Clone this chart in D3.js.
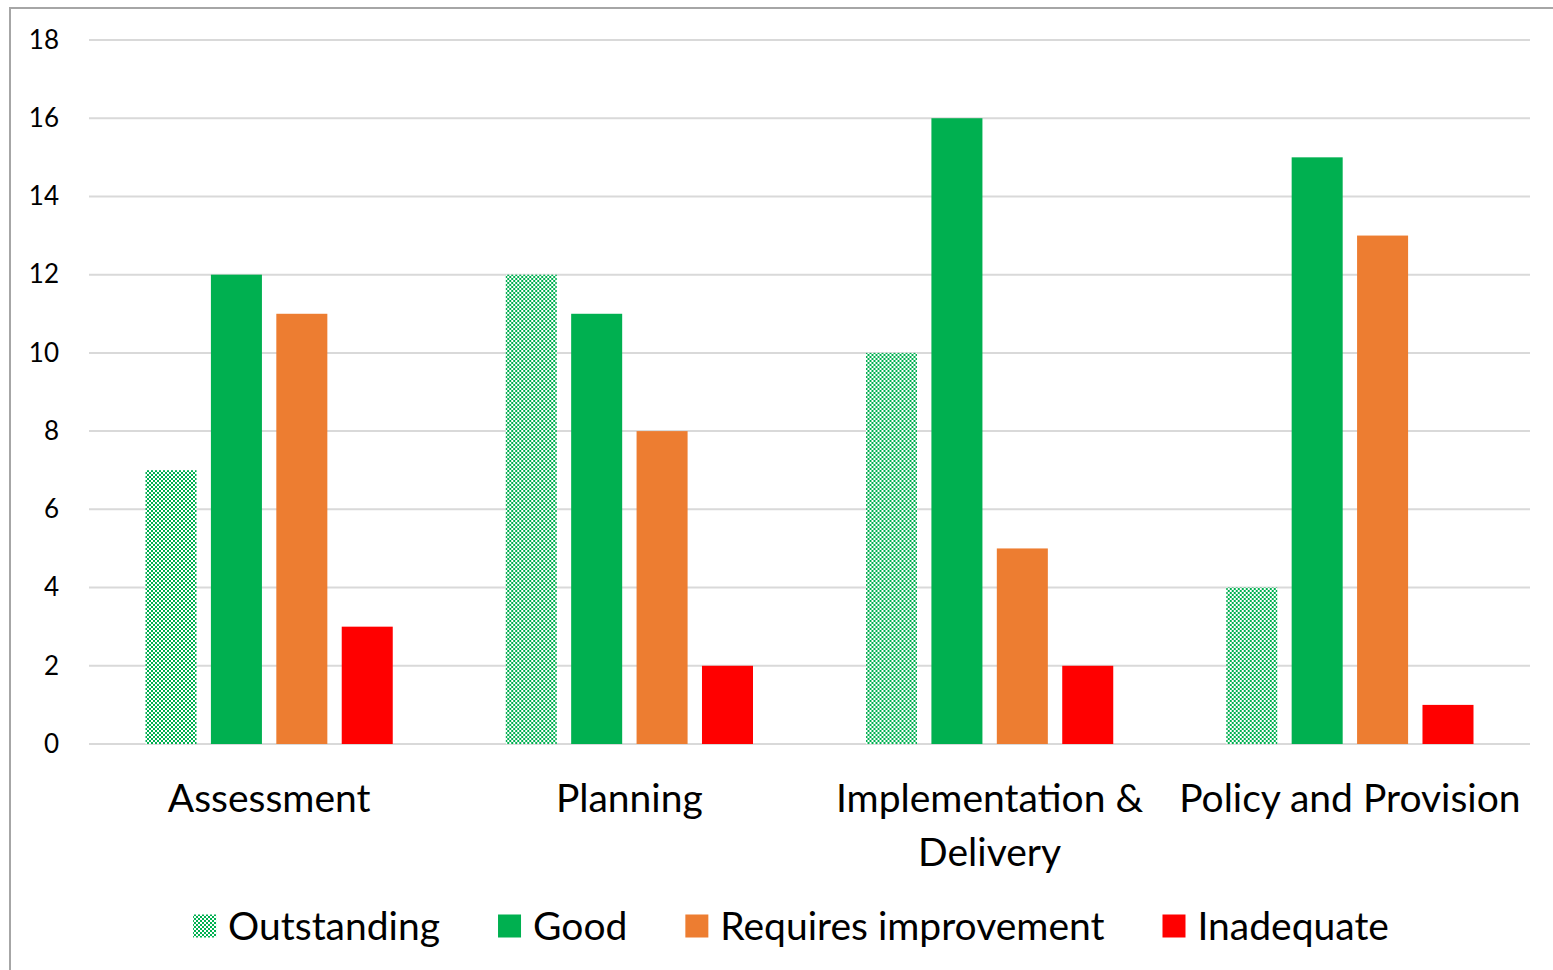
<!DOCTYPE html>
<html>
<head>
<meta charset="utf-8">
<script src="https://cdn.jsdelivr.net/npm/d3@7"></script>
<style>
  html, body { margin: 0; padding: 0; background: #fff; }
  svg { display: block; }
  text { font-family: Lato, "Open Sans", sans-serif; fill: #000; }
</style>
</head>
<body>
<svg id="chart" width="1553" height="970"></svg>
<script>
// Inspection ratings by area
const categories = ["Assessment", "Planning", "Implementation & Delivery", "Policy and Provision"];
const seriesNames = ["Outstanding", "Good", "Requires improvement", "Inadequate"];
const outstanding = [7, 12, 10, 4];
const good = [12, 11, 16, 15];
const requiresImprovement = [11, 8, 5, 13];
const inadequate = [3, 2, 2, 1];
const yTicks = [0, 2, 4, 6, 8, 10, 12, 14, 16, 18];

const seriesValues = [outstanding, good, requiresImprovement, inadequate];
const green = "#00B050";
const fills = ["url(#checker)", green, "#ED7D31", "#FF0000"];

const W = 1553, H = 970;
const plot = { left: 89, right: 1530, top: 40, bottom: 744 };

const svg = d3.select("#chart");

// checkerboard fill for the "Outstanding" series
const defs = svg.append("defs");
const pat = defs.append("pattern")
  .attr("id", "checker")
  .attr("patternUnits", "userSpaceOnUse")
  .attr("width", 4).attr("height", 4);
pat.append("rect").attr("width", 4).attr("height", 4).attr("fill", "#fff");
pat.append("rect").attr("x", 0).attr("y", 0).attr("width", 2).attr("height", 2).attr("fill", green);
pat.append("rect").attr("x", 2).attr("y", 2).attr("width", 2).attr("height", 2).attr("fill", green);

// chart frame
svg.append("path")
  .attr("d", `M10,${H} L10,8 L${W},8`)
  .attr("fill", "none")
  .attr("stroke", "#a6a6a6")
  .attr("stroke-width", 2);

const x0 = d3.scaleBand().domain(categories).range([plot.left, plot.right]).padding(0);
const groupPad = 56.5;
const x1 = d3.scaleBand().domain(seriesNames)
  .range([groupPad, x0.bandwidth() - groupPad])
  .paddingInner(0.22).paddingOuter(0);
const y = d3.scaleLinear().domain([0, 18]).range([plot.bottom, plot.top]);

// gridlines
svg.append("g").selectAll("line").data(yTicks).join("line")
  .attr("x1", plot.left).attr("x2", plot.right)
  .attr("y1", d => y(d)).attr("y2", d => y(d))
  .attr("stroke", "#d9d9d9").attr("stroke-width", 2);

// y axis labels
const yAxis = d3.axisLeft(y).tickValues(yTicks).tickSize(0).tickPadding(0);
const ya = svg.append("g").attr("transform", `translate(59,0)`).call(yAxis);
ya.select(".domain").remove();
ya.selectAll("text")
  .attr("font-family", "Lato, 'Open Sans', sans-serif")
  .attr("font-size", 26)
  .attr("fill", "#000");

// bars
const groups = svg.append("g").selectAll("g").data(categories).join("g")
  .attr("transform", d => `translate(${x0(d)},0)`);
groups.selectAll("rect")
  .data((c, ci) => seriesNames.map((s, si) => ({ s, si, v: seriesValues[si][ci] })))
  .join("rect")
  .attr("x", d => x1(d.s))
  .attr("width", x1.bandwidth())
  .attr("y", d => y(d.v))
  .attr("height", d => y(0) - y(d.v))
  .attr("fill", d => fills[d.si]);

// category labels, wrapped to the band width
const catFont = 39;
const lineGap = 54;
const measure = svg.append("text").attr("font-size", catFont).attr("visibility", "hidden");
function textWidth(t, size) {
  measure.attr("font-size", size).text(t);
  return measure.node().getComputedTextLength();
}
function wrap(label, maxW) {
  const words = label.split(" ");
  const lines = [];
  let cur = "";
  words.forEach(w => {
    const trial = cur ? cur + " " + w : w;
    if (cur && textWidth(trial, catFont) > maxW) { lines.push(cur); cur = w; }
    else cur = trial;
  });
  if (cur) lines.push(cur);
  return lines;
}
categories.forEach(c => {
  const lines = wrap(c, x0.bandwidth() + 2);
  const t = svg.append("text")
    .attr("text-anchor", "middle")
    .attr("font-size", catFont)
    .attr("x", x0(c) + x0.bandwidth() / 2)
    .attr("y", 812);
  lines.forEach((ln, i) => {
    t.append("tspan")
      .attr("x", x0(c) + x0.bandwidth() / 2)
      .attr("dy", i === 0 ? 0 : lineGap)
      .text(ln);
  });
});

// legend
const legFont = 39, sw = 23, swGap = 12, itemGap = 58;
const widths = seriesNames.map(s => textWidth(s, legFont));
const total = d3.sum(widths) + seriesNames.length * (sw + swGap) + itemGap * (seriesNames.length - 1);
let lx = 791 - total / 2;
const legY = 926;
seriesNames.forEach((s, i) => {
  svg.append("rect")
    .attr("x", lx).attr("y", legY - sw / 2)
    .attr("width", sw).attr("height", sw)
    .attr("fill", fills[i]);
  svg.append("text")
    .attr("x", lx + sw + swGap)
    .attr("y", legY + 14)
    .attr("font-size", legFont)
    .text(s);
  lx += sw + swGap + widths[i] + itemGap;
});
measure.remove();
</script>
</body>
</html>
